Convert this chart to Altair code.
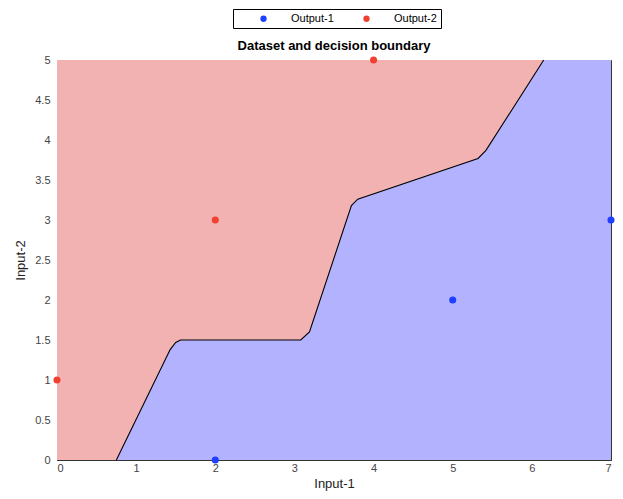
import altair as alt
import pandas as pd

# Decision boundary (Input-1, Input-2)
boundary_x = [0.75, 1.43, 1.50, 1.56, 3.08, 3.19, 3.72, 3.80, 5.32, 5.42, 6.15]
boundary_y = [0.0, 1.38, 1.47, 1.50, 1.50, 1.60, 3.18, 3.26, 3.77, 3.87, 5.0]

# Dataset points
out1_x = [2, 5, 7]
out1_y = [0, 2, 3]
out2_x = [0, 2, 4]
out2_y = [1, 3, 5]

x_ticks = [0, 1, 2, 3, 4, 5, 6, 7]
y_ticks = [0.0, 0.5, 1.0, 1.5, 2.0, 2.5, 3.0, 3.5, 4.0, 4.5, 5.0]

x_min, x_max = 0, 7
y_min, y_max = 0, 5

FONT = "Liberation Sans"
RED_FILL = "#f3b2b2"
BLUE_FILL = "#b2b2ff"

bnd = pd.DataFrame({"x": boundary_x, "y": boundary_y})
blue_region = pd.DataFrame({"x": boundary_x + [x_max], "y": boundary_y + [y_max],
                            "y0": [y_min] * (len(boundary_x) + 1)})
red_region = pd.DataFrame({"x0": [x_min], "x1": [x_max], "y0": [y_min], "y1": [y_max]})
pts = pd.DataFrame({
    "x": out1_x + out2_x,
    "y": out1_y + out2_y,
    "series": ["Output-1"] * len(out1_x) + ["Output-2"] * len(out2_x),
})

xs = alt.Scale(domain=[x_min, x_max], nice=False, zero=False)
ys = alt.Scale(domain=[y_min, y_max], nice=False, zero=False)

xaxis = alt.Axis(title="Input-1", values=x_ticks, format="d", grid=False, ticks=False,
                 labelPadding=2, titlePadding=4, labelOverlap=False)
yaxis = alt.Axis(title="Input-2", values=y_ticks, format="~g", grid=False,
                 ticks=False, labelPadding=7, titlePadding=7, labelOverlap=False)

red = alt.Chart(red_region).mark_rect(color=RED_FILL).encode(
    x=alt.X("x0:Q", scale=xs, axis=xaxis), x2="x1:Q",
    y=alt.Y("y0:Q", scale=ys, axis=yaxis), y2="y1:Q",
)

blue = alt.Chart(blue_region).mark_area(color=BLUE_FILL, interpolate="linear").encode(
    x=alt.X("x:Q", scale=xs, axis=xaxis), y=alt.Y("y:Q", scale=ys, axis=yaxis), y2="y0:Q",
)

line = alt.Chart(bnd).mark_line(color="black", strokeWidth=1.1).encode(
    x=alt.X("x:Q", scale=xs, axis=xaxis), y=alt.Y("y:Q", scale=ys, axis=yaxis), order="x:Q",
)

points = alt.Chart(pts).mark_circle(size=50, opacity=1).encode(
    x=alt.X("x:Q", scale=xs, axis=xaxis), y=alt.Y("y:Q", scale=ys, axis=yaxis),
    color=alt.Color("series:N", scale=alt.Scale(domain=["Output-1", "Output-2"], range=["#1f40ff", "#f04030"]),
                    legend=alt.Legend(title=None, orient="none", legendX=176, legendY=-51, direction="horizontal",
                                      strokeColor="black", padding=4, symbolOffset=21, labelOffset=22,
                                      columnPadding=6, symbolSize=40, symbolType="circle",
                                      labelFontSize=11, labelFont=FONT, labelColor="black")),
)

chart = alt.layer(red, blue, line, points).properties(
    width=554, height=400,
    title=alt.TitleParams("Dataset and decision boundary", fontSize=13, fontWeight="bold", font=FONT,
                          color="black", offset=0, dy=44),
    padding={"left": 49, "top": 52, "right": 4, "bottom": 31},
    autosize=alt.AutoSizeParams(type="none"),
).configure_view(stroke="#333", strokeWidth=1).configure_axis(
    labelFont=FONT, titleFont=FONT, labelFontSize=11, titleFontSize=13, labelColor="#444", titleColor="#222",
    domainColor="#333", titleFontWeight="normal",
)

chart.save("out.html", embed_options={"renderer": "svg", "actions": False})
